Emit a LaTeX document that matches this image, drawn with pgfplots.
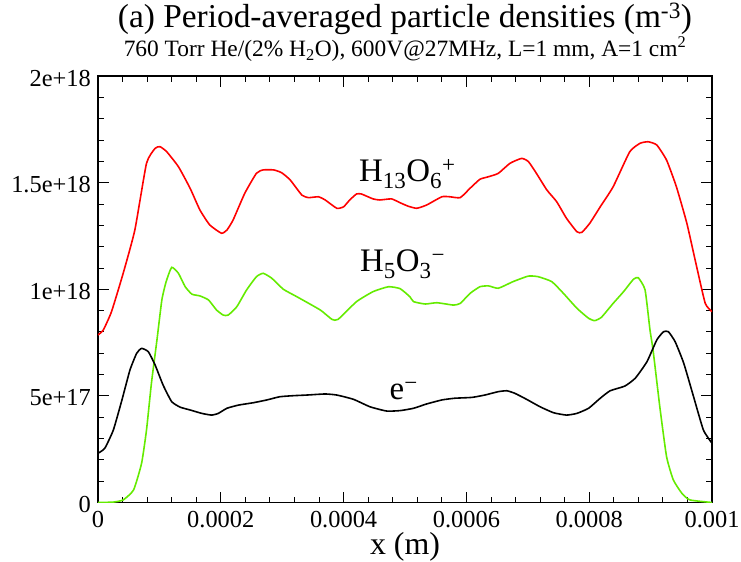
\documentclass[border=0pt]{standalone}
\usepackage{fontspec}
\setmainfont{Liberation Serif}
\usepackage{pgfplots}
\pgfplotsset{compat=1.18}
\definecolor{grn}{RGB}{100,235,0}
\begin{document}
\begin{tikzpicture}
\begin{axis}[
  name=ax,
  scale only axis,
  width=614bp, height=426.4bp,
  xmin=0, xmax=0.001, ymin=0, ymax=2e18,
  xtick={0,0.0002,0.0004,0.0006,0.0008,0.001},
  xticklabels={0,0.0002,0.0004,0.0006,0.0008,0.001},
  ytick={0,5e17,1e18,1.5e18,2e18},
  yticklabels={0,5e+17,1e+18,1.5e+18,2e+18},
  minor x tick num=4, minor y tick num=4,
  scaled ticks=false,
  tick align=inside,
  major tick length=11bp, minor tick length=6bp,
  tick style={black, line width=0.9pt},
  axis line style={line width=1.2pt},
  ticklabel style={font=\fontsize{24.5}{26}\selectfont, inner sep=0pt},
  xticklabel style={anchor=base, yshift=-24.8bp},
  yticklabel style={xshift=-7bp, yshift=-2bp},
  /pgf/number format/assume math mode=true,
  xlabel={x (m)},
  xlabel style={font=\fontsize{32}{34}\selectfont, inner sep=0pt, anchor=base, at={(axis description cs:0.5,0)}, yshift=-51.5bp},
  clip mode=individual,
  every axis plot/.append style={line width=1.6pt, smooth, tension=0.3},
]
% H13O6+
\addplot[red] coordinates {
(0,7.86e17) (0.086e-4,8.09e17) (0.22e-4,8.95e17) (0.41e-4,10.75e17) (0.60e-4,12.78e17)
(0.79e-4,15.91e17) (0.93e-4,16.61e17) (1.01e-4,16.69e17) (1.12e-4,16.45e17) (1.31e-4,15.75e17)
(1.50e-4,14.74e17) (1.66e-4,13.72e17) (1.82e-4,13.02e17) (2.01e-4,12.63e17) (2.10e-4,12.78e17)
(2.20e-4,13.25e17) (2.39e-4,14.50e17) (2.58e-4,15.44e17) (2.69e-4,15.60e17) (2.86e-4,15.60e17)
(2.99e-4,15.47e17) (3.13e-4,15.13e17) (3.32e-4,14.42e17) (3.43e-4,14.30e17) (3.59e-4,14.34e17)
(3.70e-4,14.19e17) (3.89e-4,13.80e17) (4.00e-4,13.87e17) (4.10e-4,14.19e17) (4.21e-4,14.47e17)
(4.29e-4,14.47e17) (4.48e-4,14.24e17) (4.59e-4,14.19e17) (4.78e-4,14.24e17) (4.92e-4,14.06e17)
(5.05e-4,13.90e17) (5.19e-4,13.80e17) (5.35e-4,13.95e17) (5.60e-4,14.34e17) (5.73e-4,14.34e17)
(5.90e-4,14.30e17) (6.06e-4,14.74e17) (6.22e-4,15.16e17) (6.36e-4,15.28e17) (6.52e-4,15.44e17)
(6.71e-4,15.91e17) (6.90e-4,16.14e17) (7.01e-4,15.99e17) (7.14e-4,15.44e17) (7.31e-4,14.66e17)
(7.47e-4,14.11e17) (7.63e-4,13.33e17) (7.80e-4,12.70e17) (7.88e-4,12.67e17) (8.01e-4,13.10e17)
(8.18e-4,13.87e17) (8.39e-4,14.81e17) (8.66e-4,16.45e17) (8.83e-4,16.85e17) (8.96e-4,16.92e17)
(9.10e-4,16.77e17) (9.26e-4,16.06e17) (9.42e-4,14.81e17) (9.59e-4,13.10e17) (9.75e-4,11.06e17)
(9.89e-4,9.34e17) (10.0e-4,8.95e17)
};
% H5O3-
\addplot[grn] coordinates {
(0,0) (0.25e-4,0.02e17) (0.41e-4,0.12e17) (0.58e-4,0.59e17) (0.71e-4,1.84e17)
(0.79e-4,3.40e17) (0.87e-4,5.59e17) (0.96e-4,7.62e17) (1.04e-4,9.50e17) (1.11e-4,10.36e17)
(1.20e-4,11.03e17) (1.31e-4,10.75e17) (1.42e-4,10.12e17) (1.53e-4,9.77e17) (1.66e-4,9.69e17)
(1.80e-4,9.50e17) (1.93e-4,9.03e17) (2.04e-4,8.79e17) (2.12e-4,8.79e17) (2.26e-4,9.18e17)
(2.42e-4,9.97e17) (2.58e-4,10.59e17) (2.69e-4,10.75e17) (2.83e-4,10.52e17) (3.02e-4,10.00e17)
(3.24e-4,9.65e17) (3.62e-4,9.03e17) (3.81e-4,8.59e17) (3.91e-4,8.59e17) (4.21e-4,9.42e17)
(4.48e-4,9.89e17) (4.73e-4,10.12e17) (4.92e-4,10.03e17) (5.08e-4,9.65e17) (5.14e-4,9.42e17)
(5.33e-4,9.31e17) (5.52e-4,9.37e17) (5.79e-4,9.26e17) (5.90e-4,9.34e17) (6.06e-4,9.81e17)
(6.22e-4,10.12e17) (6.36e-4,10.16e17) (6.52e-4,10.05e17) (6.76e-4,10.36e17) (7.01e-4,10.62e17)
(7.17e-4,10.59e17) (7.39e-4,10.36e17) (7.58e-4,9.81e17) (7.80e-4,9.11e17) (7.99e-4,8.64e17)
(8.09e-4,8.53e17) (8.20e-4,8.69e17) (8.39e-4,9.34e17) (8.56e-4,9.89e17) (8.72e-4,10.47e17)
(8.80e-4,10.54e17) (8.91e-4,9.97e17) (8.99e-4,8.09e17) (9.04e-4,7.15e17) (9.15e-4,4.49e17)
(9.26e-4,2.15e17) (9.37e-4,1.06e17) (9.51e-4,0.43e17) (9.64e-4,0.12e17) (10.0e-4,0)
};
% e-
\addplot[black] coordinates {
(0,2.31e17) (0.11e-4,2.54e17) (0.25e-4,3.40e17) (0.39e-4,4.81e17) (0.52e-4,6.21e17)
(0.63e-4,7.00e17) (0.71e-4,7.23e17) (0.82e-4,7.07e17) (0.93e-4,6.45e17) (1.06e-4,5.51e17)
(1.20e-4,4.73e17) (1.34e-4,4.47e17) (1.50e-4,4.34e17) (1.69e-4,4.18e17) (1.85e-4,4.10e17)
(1.96e-4,4.18e17) (2.10e-4,4.42e17) (2.29e-4,4.57e17) (2.53e-4,4.68e17) (2.75e-4,4.81e17)
(2.96e-4,4.96e17) (3.18e-4,5.01e17) (3.40e-4,5.04e17) (3.70e-4,5.09e17) (3.89e-4,5.04e17)
(4.16e-4,4.84e17) (4.43e-4,4.49e17) (4.70e-4,4.29e17) (4.92e-4,4.31e17) (5.14e-4,4.42e17)
(5.35e-4,4.62e17) (5.60e-4,4.81e17) (5.81e-4,4.89e17) (6.09e-4,4.93e17) (6.30e-4,5.04e17)
(6.52e-4,5.20e17) (6.66e-4,5.24e17) (6.79e-4,5.12e17) (6.98e-4,4.84e17) (7.20e-4,4.49e17)
(7.42e-4,4.21e17) (7.63e-4,4.10e17) (7.80e-4,4.18e17) (7.99e-4,4.42e17) (8.18e-4,4.89e17)
(8.34e-4,5.24e17) (8.58e-4,5.46e17) (8.75e-4,5.83e17) (8.94e-4,6.60e17) (9.10e-4,7.62e17)
(9.21e-4,8.01e17) (9.29e-4,8.01e17) (9.40e-4,7.54e17) (9.54e-4,6.53e17) (9.70e-4,4.96e17)
(9.86e-4,3.40e17) (10.0e-4,2.78e17)
};
\node[font=\fontsize{33}{35}\selectfont, anchor=base, inner sep=0pt] at (axis cs:5.04e-4,15.05e17) {H\textsubscript{13}O\textsubscript{6}\textsuperscript{+}};
\node[font=\fontsize{33}{35}\selectfont, anchor=base, inner sep=0pt] at (axis cs:4.96e-4,10.83e17) {H\textsubscript{5}O\textsubscript{3}\textsuperscript{−}};
\node[font=\fontsize{33}{35}\selectfont, anchor=base, inner sep=0pt] at (axis cs:4.98e-4,4.81e17) {e\textsuperscript{−}};
\end{axis}
\node[font=\fontsize{33.5}{36}\selectfont, anchor=base, inner sep=0pt] at ([yshift=48.5bp]ax.north) {(a) Period-averaged particle densities (m\textsuperscript{-3})};
\node[font=\fontsize{23.5}{26}\selectfont, anchor=base, inner sep=0pt] at ([yshift=19.5bp]ax.north) {760 Torr He/(2\% H\textsubscript{2}O), 600V@27MHz, L=1 mm, A=1 cm\textsuperscript{2}};
\pgfresetboundingbox
\path[use as bounding box] ([xshift=-98bp,yshift=-59.5bp]ax.south west) rectangle ([xshift=29bp,yshift=76.1bp]ax.north east);
\end{tikzpicture}
\end{document}
